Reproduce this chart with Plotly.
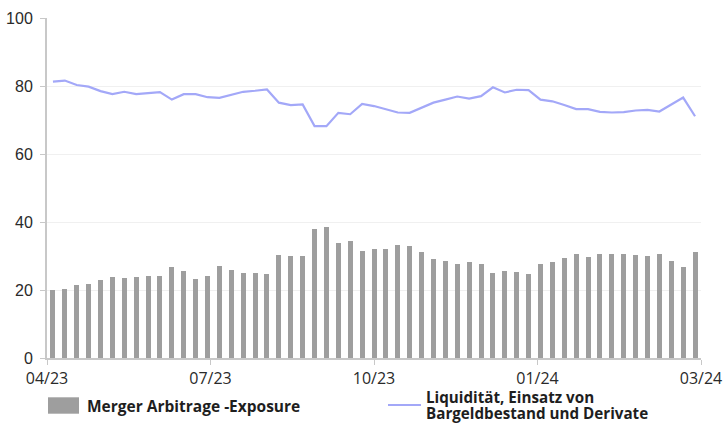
import plotly.graph_objects as go

# Data (weekly observations, 04/2023 - 03/2024)
merger_arbitrage = [
    19.9, 20.2, 21.4, 21.7, 22.9, 23.7, 23.4, 23.7, 24.0, 24.0,
    26.7, 25.5, 23.1, 24.0, 27.0, 25.8, 24.9, 24.9, 24.6, 30.2,
    29.9, 29.9, 37.9, 38.4, 33.7, 34.3, 31.4, 32.0, 32.0, 33.1,
    32.9, 31.1, 29.0, 28.4, 27.6, 28.1, 27.6, 24.9, 25.5, 25.2,
    24.6, 27.6, 28.1, 29.3, 30.5, 29.6, 30.5, 30.5, 30.5, 30.2,
    29.9, 30.5, 28.4, 26.7, 31.1,
]
liquiditaet = [
    81.3, 81.6, 80.3, 79.8, 78.5, 77.6, 78.3, 77.6, 77.9, 78.2,
    76.0, 77.6, 77.6, 76.7, 76.5, 77.5, 78.3, 78.6, 79.0, 75.1,
    74.4, 74.6, 68.2, 68.2, 72.1, 71.7, 74.7, 74.1, 73.1, 72.2,
    72.1, 73.6, 75.1, 76.0, 76.9, 76.3, 77.0, 79.6, 78.1, 78.9,
    78.8, 76.0, 75.5, 74.4, 73.2, 73.2, 72.4, 72.2, 72.3, 72.8,
    73.0, 72.5, 74.5, 76.6, 71.1,
]
tick_labels = ["04/23", "07/23", "10/23", "01/24", "03/24"]
y_ticks = [0, 20, 40, 60, 80, 100]
legend_bar_label = "Merger Arbitrage -Exposure"
legend_line_label = ["Liquidität, Einsatz von", "Bargeldbestand und Derivate"]

n = len(merger_arbitrage)
x = list(range(n))
x_range = [-0.5, n - 0.5]
tick_pos = [x_range[0] + i * (x_range[1] - x_range[0]) / (len(tick_labels) - 1)
            for i in range(len(tick_labels))]

BAR_COLOR = "#9e9e9e"
LINE_COLOR = "#a3a8f8"
TEXT = "#1e1e1e"
TICK_TEXT = "#2a2a2a"

L, R, T, B = 47, 23, 18, 65
PW, PH = 724 - L - R, 423 - T - B


def px(xp):
    return (xp - L) / PW


def py(yp):
    return (423 - B - yp) / PH


fig = go.Figure()
fig.add_trace(go.Bar(x=x, y=merger_arbitrage, name=legend_bar_label,
                     marker=dict(color=BAR_COLOR, line=dict(width=0)),
                     width=0.42, showlegend=False))
fig.add_trace(go.Scatter(x=x, y=liquiditaet, name=" ".join(legend_line_label),
                         mode="lines",
                         line=dict(color=LINE_COLOR, width=2.2), showlegend=False))

fig.update_layout(
    width=724, height=423,
    margin=dict(l=L, r=R, t=T, b=B, pad=0, autoexpand=False),
    paper_bgcolor="white", plot_bgcolor="white",
    font=dict(family="Open Sans", size=15, color=TICK_TEXT),
    showlegend=False,
    bargap=0,
)
fig.update_xaxes(
    range=x_range, tickvals=tick_pos, ticktext=tick_labels,
    showgrid=False, zeroline=False, automargin=False,
    showline=True, linecolor="#c8c8c8", linewidth=2,
    ticks="outside", ticklen=5, tickcolor="#c8c8c8", tickwidth=1,
    tickfont=dict(family="Open Sans", size=16, color=TICK_TEXT),
)
fig.update_yaxes(
    range=[0, 100], tickvals=y_ticks,
    showgrid=True, gridcolor="#f0f0f0", gridwidth=1, zeroline=False,
    automargin=False,
    showline=True, linecolor="#c8c8c8", linewidth=2,
    ticks="outside", ticklen=5, tickcolor="#c8c8c8", tickwidth=1,
    ticklabelstandoff=4,
    tickfont=dict(family="Liberation Sans", size=16, color=TICK_TEXT),
)

# Custom legend (swatches + labels)
fig.add_shape(type="rect", xref="paper", yref="paper",
              x0=px(48), x1=px(79), y0=py(397.3), y1=py(413.7),
              fillcolor=BAR_COLOR, line=dict(width=0))
fig.add_annotation(xref="paper", yref="paper",
                   x=px(85), y=py(406),
                   xanchor="left", yanchor="middle", showarrow=False,
                   text="<b>" + legend_bar_label + "</b>",
                   font=dict(family="Open Sans", size=15.5, color=TEXT))
fig.add_shape(type="line", xref="paper", yref="paper",
              x0=px(388), x1=px(421), y0=py(405), y1=py(405),
              line=dict(color=LINE_COLOR, width=2.2))
for i, line_text in enumerate(legend_line_label):
    fig.add_annotation(xref="paper", yref="paper",
                       x=px(424), y=py(396.5 + 16 * i),
                       xanchor="left", yanchor="middle", showarrow=False,
                       align="left",
                       text="<b>" + line_text + "</b>",
                       font=dict(family="Open Sans", size=15.2, color=TEXT))

fig.write_html("out.html",
               config={"displayModeBar": False},
               post_script="document.body.style.margin='0px';"
                           "document.body.style.padding='0px';"
                           "document.body.style.overflow='hidden';")
